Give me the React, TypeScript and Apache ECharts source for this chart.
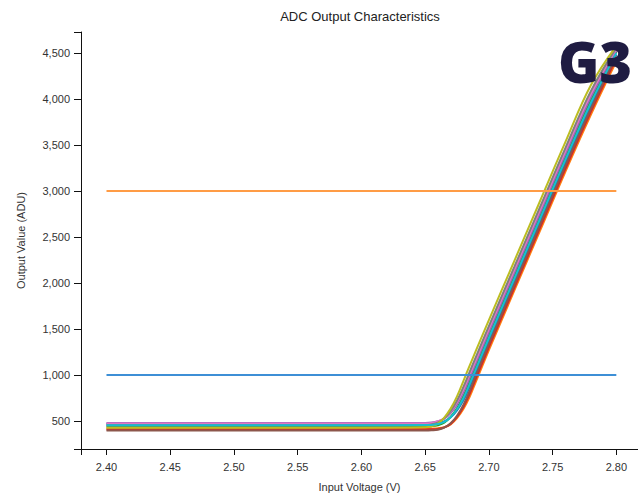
import React, { useEffect, useRef } from "react";
import * as echarts from "echarts";

// Input voltage sample points (V), shared by every transfer curve
const voltage = [2.40, 2.50, 2.60, 2.65, 2.655, 2.66, 2.665, 2.67, 2.675, 2.68, 2.685, 2.69, 2.70, 2.72, 2.74, 2.76, 2.78, 2.80];

// Output codes (ADU) of each measured channel at the voltages above
const chBlue = [468, 468, 468, 468, 471, 479, 495, 540, 616, 726, 872, 1037, 1370, 2016, 2661, 3306, 3925, 4485];
const chOrange = [418, 418, 418, 418, 419, 422, 433, 464, 532, 631, 766, 935, 1270, 1920, 2565, 3210, 3829, 4410];
const chGreen = [440, 440, 440, 441, 444, 455, 482, 545, 640, 770, 935, 1105, 1436, 2081, 2726, 3371, 3990, 4515];
const chRed = [408, 408, 408, 408, 410, 414, 431, 469, 545, 653, 797, 969, 1303, 1952, 2597, 3242, 3861, 4440];
const chPurple = [478, 478, 478, 480, 484, 498, 525, 587, 681, 811, 971, 1138, 1468, 2113, 2758, 3403, 4022, 4530];
const chBrown = [398, 398, 398, 398, 400, 406, 428, 476, 558, 675, 828, 1003, 1336, 1984, 2629, 3274, 3893, 4465];
const chPink = [472, 472, 472, 474, 480, 498, 531, 602, 705, 842, 1005, 1171, 1501, 2146, 2791, 3436, 4055, 4545];
const chGray = [452, 452, 452, 455, 463, 483, 529, 609, 723, 871, 1037, 1204, 1533, 2178, 2823, 3468, 4087, 4560];
const chOlive = [428, 428, 428, 432, 443, 472, 538, 635, 768, 935, 1105, 1270, 1597, 2242, 2887, 3532, 4151, 4580];
const chCyan = [455, 455, 455, 456, 458, 468, 490, 542, 628, 748, 904, 1071, 1403, 2049, 2694, 3339, 3958, 4500];

const channels = [
  { name: "CH1", values: chBlue, color: "#1f77b4" },
  { name: "CH2", values: chOrange, color: "#ff7f0e" },
  { name: "CH3", values: chGreen, color: "#2ca02c" },
  { name: "CH4", values: chRed, color: "#d62728" },
  { name: "CH5", values: chPurple, color: "#9467bd" },
  { name: "CH6", values: chBrown, color: "#8c564b" },
  { name: "CH7", values: chPink, color: "#e377c2" },
  { name: "CH8", values: chGray, color: "#7f7f7f" },
  { name: "CH9", values: chOlive, color: "#bcbd22" },
  { name: "CH10", values: chCyan, color: "#17becf" },
];

// Horizontal reference levels (ADU) spanning the sweep range
const refSpan = [2.40, 2.80];
const refLevels = [1000, 3000];
const refColors = ["#3d8fd6", "#ff9c45"];

// Axis ranges and tick positions
const xRange = [2.38, 2.817];
const yRange = [196, 4730];
const xTickLabels = [2.40, 2.45, 2.50, 2.55, 2.60, 2.65, 2.70, 2.75, 2.80];
const yTickLabels = [500, 1000, 1500, 2000, 2500, 3000, 3500, 4000, 4500];

const FONT = "'Liberation Sans', Arial, sans-serif";

export default function App() {
  const ref = useRef<HTMLDivElement>(null);

  useEffect(() => {
    if (!ref.current) return;
    const chart = echarts.init(ref.current, null, { renderer: "svg" });

    const curveSeries = channels.map((c) => ({
      name: c.name,
      type: "line",
      data: voltage.map((v, i) => [v, c.values[i]]),
      showSymbol: false,
      smooth: 0.4,
      lineStyle: { color: c.color, width: 2 },
      itemStyle: { color: c.color },
      z: 2,
    }));

    const refSeries = refLevels.map((lvl, i) => ({
      name: "ref" + lvl,
      type: "line",
      data: refSpan.map((v) => [v, lvl]),
      showSymbol: false,
      lineStyle: { color: refColors[i], width: 2 },
      z: 3,
    }));

    chart.setOption({
      animation: false,
      backgroundColor: "#ffffff",
      grid: {
        left: 81,
        right: 0,
        top: 32,
        bottom: 45,
        containLabel: false,
        outerBoundsMode: "none",
      },
      xAxis: {
        type: "value",
        min: xRange[0],
        max: xRange[1],
        name: "Input Voltage (V)",
        nameLocation: "middle",
        nameGap: 32,
        nameTextStyle: { fontFamily: FONT, fontSize: 11, color: "#333" },
        axisLine: { show: true, lineStyle: { color: "#111", width: 1 } },
        axisTick: {
          show: true,
          length: 6,
          lineStyle: { color: "#111" },
          customValues: [xRange[0], ...xTickLabels],
        },
        axisLabel: {
          fontFamily: FONT,
          fontSize: 11,
          color: "#333",
          margin: 12,
          customValues: xTickLabels,
          formatter: (v: number) => v.toFixed(2),
        },
        splitLine: { show: false },
      },
      yAxis: {
        type: "value",
        min: yRange[0],
        max: yRange[1],
        name: "Output Value (ADU)",
        nameLocation: "middle",
        nameGap: 55,
        nameTextStyle: { fontFamily: FONT, fontSize: 11, color: "#333" },
        axisLine: { show: true, lineStyle: { color: "#111", width: 1 } },
        axisTick: {
          show: true,
          length: 7,
          lineStyle: { color: "#111" },
          customValues: [yRange[0], ...yTickLabels, yRange[1]],
        },
        axisLabel: {
          fontFamily: FONT,
          fontSize: 11,
          color: "#333",
          margin: 11,
          customValues: yTickLabels,
          formatter: (v: number) => v.toLocaleString("en-US"),
        },
        splitLine: { show: false },
      },
      graphic: [
        {
          type: "text",
          x: 360,
          y: 16,
          style: {
            text: "ADC Output Characteristics",
            fontFamily: FONT,
            fontSize: 13,
            fill: "#222",
            align: "center",
            verticalAlign: "middle",
          },
          z: 10,
        },
        {
          type: "text",
          x: 595,
          y: 61,
          style: {
            text: "G3",
            fontFamily: "'Open Sans', 'Noto Sans', sans-serif",
            fontSize: 56,
            fontWeight: 800,
            fill: "#1f1c42",
            align: "center",
            verticalAlign: "middle",
          },
          z: 100,
        },
      ],
      series: [...curveSeries, ...refSeries],
    });

    return () => chart.dispose();
  }, []);

  return (
    <div
      ref={ref}
      style={{ position: "fixed", left: 0, top: 0, width: 638, height: 494, background: "#fff" }}
    />
  );
}
